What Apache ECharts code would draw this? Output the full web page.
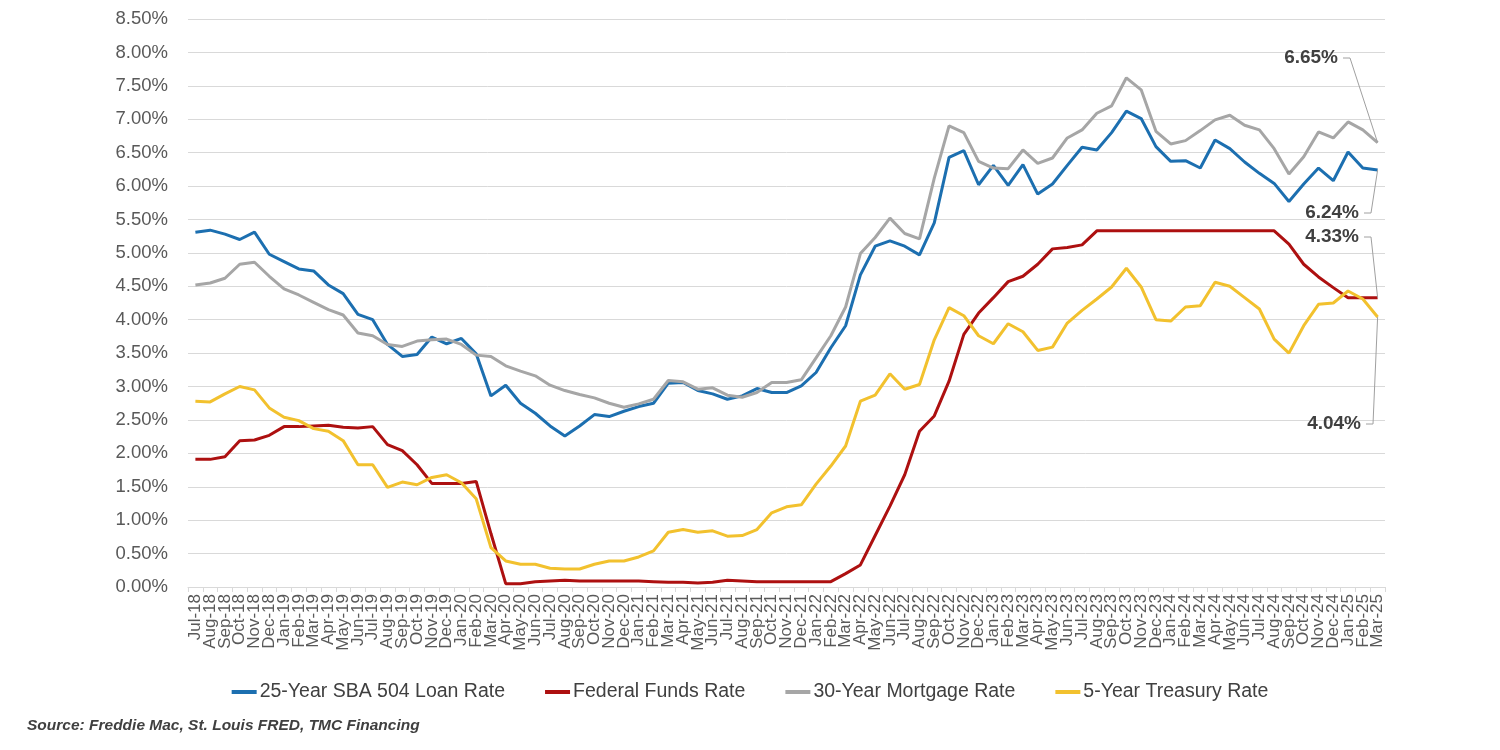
<!DOCTYPE html>
<html>
<head>
<meta charset="utf-8">
<script src="https://cdn.jsdelivr.net/npm/echarts@6/dist/echarts.min.js"></script>
<style>
html,body{margin:0;padding:0;background:#fff;}
#c{width:1500px;height:750px;}
</style>
</head>
<body>
<div id="c"></div>
<script>
var months = ["Jul-18","Aug-18","Sep-18","Oct-18","Nov-18","Dec-18",
"Jan-19","Feb-19","Mar-19","Apr-19","May-19","Jun-19","Jul-19","Aug-19","Sep-19","Oct-19","Nov-19","Dec-19",
"Jan-20","Feb-20","Mar-20","Apr-20","May-20","Jun-20","Jul-20","Aug-20","Sep-20","Oct-20","Nov-20","Dec-20",
"Jan-21","Feb-21","Mar-21","Apr-21","May-21","Jun-21","Jul-21","Aug-21","Sep-21","Oct-21","Nov-21","Dec-21",
"Jan-22","Feb-22","Mar-22","Apr-22","May-22","Jun-22","Jul-22","Aug-22","Sep-22","Oct-22","Nov-22","Dec-22",
"Jan-23","Feb-23","Mar-23","Apr-23","May-23","Jun-23","Jul-23","Aug-23","Sep-23","Oct-23","Nov-23","Dec-23",
"Jan-24","Feb-24","Mar-24","Apr-24","May-24","Jun-24","Jul-24","Aug-24","Sep-24","Oct-24","Nov-24","Dec-24",
"Jan-25","Feb-25","Mar-25"];

var sba504 = [5.31,5.34,5.28,5.20,5.31,4.98,4.87,4.76,4.73,4.52,4.39,4.08,4.00,3.63,3.45,3.48,3.74,3.64,
3.72,3.49,2.86,3.02,2.75,2.60,2.41,2.26,2.41,2.58,2.55,2.63,2.70,2.75,3.05,3.06,2.94,2.89,2.81,2.86,2.97,2.91,2.91,3.01,
3.21,3.58,3.91,4.67,5.10,5.18,5.10,4.97,5.45,6.43,6.53,6.02,6.31,6.01,6.32,5.88,6.03,6.31,6.58,6.54,6.80,7.12,7.01,6.59,
6.37,6.38,6.27,6.69,6.56,6.36,6.19,6.04,5.77,6.03,6.27,6.08,6.51,6.27,6.24];

var fedFunds = [1.91,1.91,1.95,2.19,2.20,2.27,2.40,2.40,2.41,2.42,2.39,2.38,2.40,2.13,2.04,1.83,1.55,1.55,
1.55,1.58,0.80,0.05,0.05,0.08,0.09,0.10,0.09,0.09,0.09,0.09,0.09,0.08,0.07,0.07,0.06,0.07,0.10,0.09,0.08,0.08,0.08,0.08,
0.08,0.08,0.20,0.33,0.77,1.21,1.68,2.33,2.56,3.08,3.78,4.10,4.33,4.57,4.65,4.83,5.06,5.08,5.12,5.33,5.33,5.33,5.33,5.33,
5.33,5.33,5.33,5.33,5.33,5.33,5.33,5.33,5.13,4.83,4.64,4.48,4.33,4.33,4.33];

var mortgage30 = [4.52,4.55,4.62,4.83,4.86,4.65,4.46,4.37,4.26,4.15,4.07,3.80,3.76,3.63,3.60,3.68,3.70,3.71,
3.63,3.47,3.45,3.31,3.23,3.16,3.02,2.94,2.88,2.83,2.75,2.69,2.74,2.81,3.09,3.07,2.96,2.98,2.87,2.84,2.91,3.06,3.06,3.10,
3.43,3.76,4.19,4.99,5.23,5.52,5.29,5.21,6.12,6.90,6.80,6.37,6.27,6.26,6.54,6.34,6.42,6.72,6.84,7.09,7.20,7.62,7.44,6.82,
6.63,6.68,6.83,6.99,7.06,6.91,6.84,6.56,6.18,6.44,6.81,6.72,6.96,6.84,6.65];

var treasury5 = [2.78,2.77,2.89,3.00,2.95,2.68,2.54,2.49,2.37,2.33,2.19,1.83,1.83,1.49,1.57,1.53,1.64,1.68,
1.56,1.32,0.59,0.39,0.34,0.34,0.28,0.27,0.27,0.34,0.39,0.39,0.45,0.54,0.82,0.86,0.82,0.84,0.76,0.77,0.86,1.11,1.20,1.23,
1.54,1.81,2.11,2.78,2.87,3.19,2.96,3.03,3.70,4.18,4.06,3.76,3.64,3.94,3.82,3.54,3.59,3.95,4.14,4.31,4.49,4.77,4.49,4.00,
3.98,4.19,4.21,4.56,4.50,4.33,4.16,3.71,3.50,3.91,4.23,4.25,4.43,4.31,4.04];

var seriesNames = ["25-Year SBA 504 Loan Rate","Federal Funds Rate","30-Year Mortgage Rate","5-Year Treasury Rate"];
var seriesColors = ["#1c6fb0","#ad1010","#a6a6a6","#f2c12e"];
var seriesData = [sba504, fedFunds, mortgage30, treasury5];

// end-value callouts: series index, label right edge x, label center y (layout only)
var callouts = [
  {s:2, lx:1338, ly:58},
  {s:0, lx:1359, ly:213},
  {s:1, lx:1359, ly:237},
  {s:3, lx:1361, ly:424}
];

var chart = echarts.init(document.getElementById('c'), null, {renderer:'canvas'});
var FONT = "'Liberation Sans', Arial, sans-serif";

var series = seriesData.map(function(d, i){
  return {
    name: seriesNames[i],
    type: 'line',
    data: d,
    showSymbol: false,
    symbol: 'none',
    lineStyle: {width: 3, color: seriesColors[i]},
    itemStyle: {color: seriesColors[i]},
    emphasis: {disabled: true}
  };
});

chart.setOption({
  animation: false,
  backgroundColor: '#ffffff',
  grid: {left: 188, right: 115, top: 19, bottom: 163, containLabel: false},
  legend: {
    data: seriesNames,
    top: 677,
    left: 'center',
    icon: 'rect',
    itemWidth: 25,
    itemHeight: 4,
    itemGap: 40,
    textStyle: {fontFamily: FONT, fontSize: 19.5, color: '#404040', padding: [0,0,0,-2]}
  },
  xAxis: {
    type: 'category',
    data: months,
    boundaryGap: true,
    axisLine: {show: true, lineStyle: {color: '#d9d9d9', width: 1}},
    axisTick: {show: true, alignWithLabel: false, length: 5, interval: 0, lineStyle: {color: '#d9d9d9'}},
    axisLabel: {interval: 0, rotate: 90, fontFamily: FONT, fontSize: 17, color: '#595959', margin: 7},
    splitLine: {show: false}
  },
  yAxis: {
    type: 'value',
    min: 0,
    max: 8.5,
    interval: 0.5,
    axisLine: {show: false},
    axisTick: {show: false},
    axisLabel: {fontFamily: FONT, fontSize: 18.5, color: '#595959', margin: 20,
      formatter: function(v){ return v.toFixed(2) + '%'; }},
    splitLine: {show: true, lineStyle: {color: '#d9d9d9', width: 1}}
  },
  series: series
});

// callouts anchored to the last data point via the chart's own scales
var last = months.length - 1;
var elements = [];
callouts.forEach(function(c){
  var v = seriesData[c.s][last];
  var p = chart.convertToPixel({gridIndex: 0}, [last, v]);
  var sx = c.lx + 5, ex = c.lx + 12;
  elements.push({
    type: 'polyline',
    silent: true,
    shape: {points: [[sx, c.ly], [ex, c.ly], [p[0], p[1]]]},
    style: {stroke: '#a0a0a0', lineWidth: 1, fill: null},
    z: 10
  });
  elements.push({
    type: 'text',
    silent: true,
    style: {text: v.toFixed(2) + '%', x: c.lx, y: c.ly, align: 'right', verticalAlign: 'middle',
      font: "bold 19px 'Liberation Sans', Arial, sans-serif", fill: '#404040'},
    z: 10
  });
});
elements.push({
  type: 'text',
  silent: true,
  style: {text: 'Source: Freddie Mac, St. Louis FRED, TMC Financing', x: 27, y: 726,
    align: 'left', verticalAlign: 'middle',
    font: "italic bold 15.5px 'Liberation Sans', Arial, sans-serif", fill: '#404040'}
});
chart.setOption({graphic: {elements: elements}});
</script>
</body>
</html>
